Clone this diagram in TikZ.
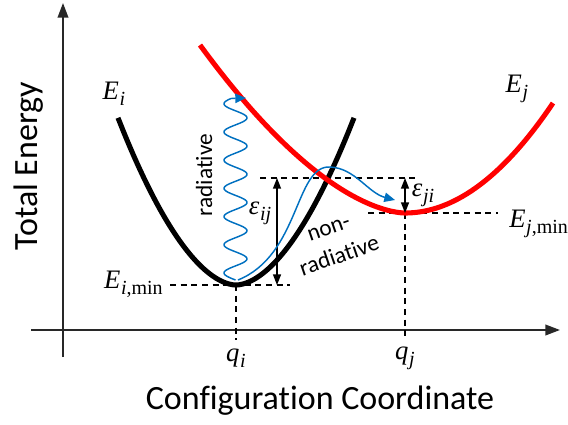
\documentclass[tikz,border=0pt]{standalone}
\usepackage{fontspec}
\setmainfont{Carlito}[Ligatures=CommonOff]
\newfontfamily\tms{Liberation Serif}
\usetikzlibrary{arrows.meta}
\definecolor{offblue}{RGB}{0,112,192}
\newcommand{\mlab}[2]{{\tms\fontsize{20}{24}\selectfont\itshape #1\kern0.5pt\raisebox{-4.5pt}{\fontsize{15}{17}\selectfont #2}}}
\newcommand{\up}[1]{{\upshape #1}}
\begin{document}
\begin{tikzpicture}[x=0.75pt,y=-0.75pt,
  axis/.style={line width=1.3pt,draw={rgb,255:red,40;green,40;blue,40},-{Triangle[length=11pt,width=8pt]}},
  guide/.style={line width=0.9pt,dash pattern=on 4.5pt off 3.5pt},
  dim/.style={line width=1.1pt,{Triangle[length=8pt,width=6pt]}-{Triangle[length=8pt,width=6pt]}},
  curve/.style={line width=3.8pt},
  bluearrow/.style={offblue,line width=1.1pt,-{Triangle[length=8pt,width=7pt]}},
  ax/.style={font=\fontsize{25.5}{30}\selectfont},
  sm/.style={font=\fontsize{17.5}{21}\selectfont}]
\useasboundingbox (0,0) rectangle (568,425);
% axes
\coordinate (yb) at (63,357);
\coordinate (yt) at (63,3);
\coordinate (xl) at (31,330);
\coordinate (xr) at (560,330);
\draw[axis] (yb) -- (yt);
\draw[axis] (xl) -- (xr);
% key points
\coordinate (imin) at (236,285);
\coordinate (jmin) at (405,213);
\coordinate (qi) at (236,340);
\coordinate (qj) at (405,340);
\coordinate (eil) at (170,285);
\coordinate (eir) at (290,285);
\coordinate (tl) at (260,178);
\coordinate (tr) at (418,178);
\coordinate (ejl) at (368,213);
\coordinate (ejr) at (498,213);
\coordinate (aij1) at (277,178);
\coordinate (aij2) at (277,285);
\coordinate (aji1) at (405,178);
\coordinate (aji2) at (405,213);
% dashed guides
\draw[guide] (eil) -- (eir);
\draw[guide] (tl) -- (tr);
\draw[guide] (ejl) -- (ejr);
\draw[guide] (imin) -- (qi);
\draw[guide] (jmin) -- (qj);
% curves
\draw[curve,black] plot[domain=118:354,samples=120,smooth] (\x,{285-1.967*(abs(\x-236)/10)^1.8});
\draw[curve,red] plot[domain=200:405,samples=100,smooth] (\x,{213-1.083*((405-\x)/10)^1.67});
\draw[curve,red] plot[domain=405:553,samples=80] (\x,{213-0.502*((\x-405)/10)^2});
% energy differences
\draw[dim] (aij1) -- (aij2);
\draw[dim] (aji1) -- (aji2);
% radiative wavy arrow
\draw[bluearrow] plot[domain=0:181.5,samples=240,smooth] ({235.5-11.5*sin(12.766*\x)},{280-\x}) -- (246,98);
% non-radiative path
\coordinate (n0) at (238,280);
\coordinate (n1) at (330,167);
\coordinate (n2) at (395,200);
\draw[bluearrow] (n0) .. controls (300,255) and (295,165) .. (n1) .. controls (355,168) and (368,193) .. (n2);
% labels
\node[ax,rotate=90] (ty) at (29,166) {Total Energy};
\node[ax] (tx) at (320,401) {Configuration Coordinate};
\node[sm,rotate=90] (rad) at (204,175) {radiative};
\node[sm,rotate=19] (nr1) at (329,229) {non-};
\node[sm,rotate=19] (nr2) at (339,255) {radiative};
\node (Ei) at (114,94) {\mlab{E}{i}};
\node (Ej) at (517,89) {\mlab{E}{j}};
\node[anchor=base east,inner sep=0pt] (Eimin) at (163,288) {\mlab{E}{i\up{,min}}};
\node[anchor=base west,inner sep=0pt] (Ejmin) at (509,227) {\mlab{E}{j\up{,min}}};
\node (eij) at (260,213) {\mlab{ε}{ij}};
\node (eji) at (423,195) {\mlab{ε}{ji}};
\node (qil) at (236,358) {\mlab{q}{i}};
\node (qjl) at (405,358) {\mlab{q}{j}};
\end{tikzpicture}
\end{document}
